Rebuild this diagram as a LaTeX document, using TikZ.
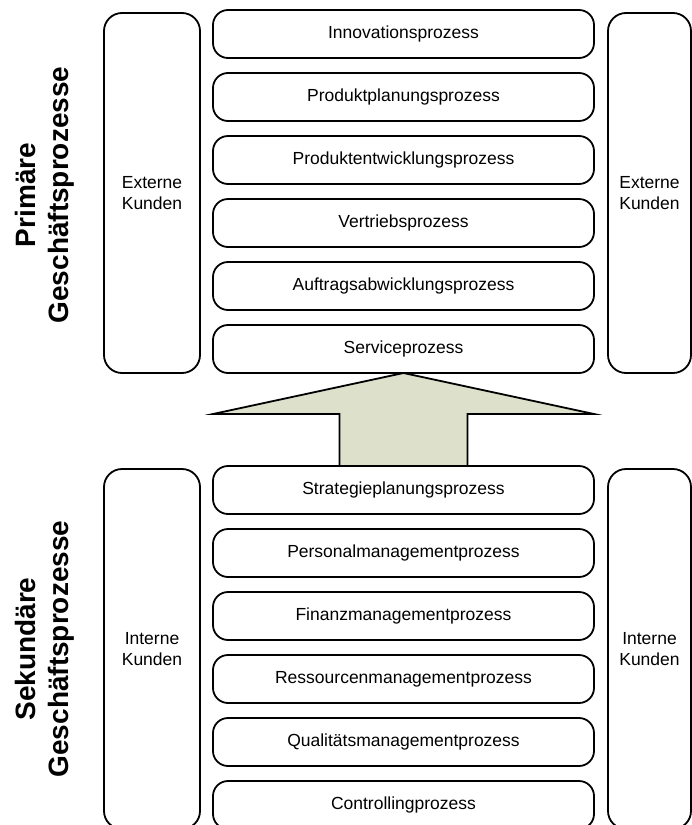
\documentclass[tikz,border=0pt]{standalone}
\usepackage{fontspec}
\setmainfont{Liberation Sans}
\usetikzlibrary{positioning, calc}
\definecolor{pfeilgruen}{RGB}{221, 224, 202}

\begin{document}
\begin{tikzpicture}[
                x=1pt, y=-1pt,
                node distance=15pt,
                prozess/.style={draw, line width=1.8pt, rounded corners=15pt, minimum width=381pt, minimum height=48pt, inner sep=0pt, outer sep=0pt, font=\fontsize{17.5}{21}\selectfont},
                kunden/.style={draw, line width=1.8pt, rounded corners=18pt, align=center, minimum height=360pt, inner sep=0pt, outer sep=0pt, font=\fontsize{17.5}{21}\selectfont},
                titel/.style={rotate=90, align=center, inner sep=0pt, font=\fontsize{28}{33}\bfseries\selectfont},
                blockpfeil/.style={draw, line width=1.8pt, fill=pfeilgruen, line join=miter}
            ]
                \useasboundingbox (0,0) rectangle (692,825);

                % primaere Prozesse
                \node[prozess] (innov) at (403.5,34) {Innovationsprozess};
                \node[prozess] (planung) [below=of innov] {Produktplanungsprozess};
                \node[prozess] (entw) [below=of planung] {Produktentwicklungsprozess};
                \node[prozess] (vertrieb) [below=of entw] {Vertriebsprozess};
                \node[prozess] (auftrag) [below=of vertrieb] {Auftragsabwicklungsprozess};
                \node[prozess] (service) [below=of auftrag] {Serviceprozess};

                \node[kunden, minimum width=96pt] (extl) at (152,193) {Externe\\Kunden};
                \node[kunden, minimum width=83pt] (extr) at (649.5,193) {Externe\\Kunden};
                \node[titel] (prim) at (44.5,195) {Primäre\\Geschäftsprozesse};

                % sekundaere Prozesse
                \node[prozess] (strategie) at (403.5,490) {Strategieplanungsprozess};
                \node[prozess] (personal) [below=of strategie] {Personalmanagementprozess};
                \node[prozess] (finanz) [below=of personal] {Finanzmanagementprozess};
                \node[prozess] (ressourcen) [below=of finanz] {Ressourcenmanagementprozess};
                \node[prozess] (qualitaet) [below=of ressourcen] {Qualitätsmanagementprozess};
                \node[prozess] (controlling) [below=of qualitaet] {Controllingprozess};

                \node[kunden, minimum width=96pt] (intl) at (152,649) {Interne\\Kunden};
                \node[kunden, minimum width=83pt] (intr) at (649.5,649) {Interne\\Kunden};
                \node[titel] (sek) at (44.5,649) {Sekundäre\\Geschäftsprozesse};

                % Blockpfeil
                \coordinate (fluegel) at ($(service.south)+(0,41)$);
                \draw[blockpfeil] (service.south) -- (fluegel -| service.east)
                    -- ($(fluegel)+(64,0)$) -- ($(strategie.north)+(64,0)$)
                    -- ($(strategie.north)+(-64,0)$) -- ($(fluegel)+(-64,0)$)
                    -- (fluegel -| service.west) -- cycle;
            \end{tikzpicture}
\end{document}
